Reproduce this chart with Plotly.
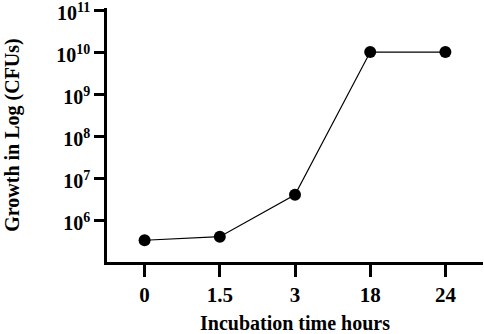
import plotly.graph_objects as go

time_labels = ["0", "1.5", "3", "18", "24"]
cfu_values = [3.3e5, 4.0e5, 4.0e6, 1.0e10, 1.0e10]
y_tick_vals = [1e6, 1e7, 1e8, 1e9, 1e10, 1e11]
y_tick_text = ["10<sup>6</sup>", "10<sup>7</sup>", "10<sup>8</sup>", "10<sup>9</sup>", "10<sup>10</sup>", "10<sup>11</sup>"]

fig = go.Figure(go.Scatter(
    x=time_labels, y=cfu_values, mode="lines+markers",
    line=dict(color="black", width=1.2),
    marker=dict(color="black", size=12),
    cliponaxis=False,
))

font_family = "Liberation Serif"
fig.update_layout(
    width=484, height=334,
    margin=dict(l=107, r=1, t=8, b=72, autoexpand=False),
    paper_bgcolor="white", plot_bgcolor="white",
    showlegend=False,
    font=dict(family=font_family, color="black", size=16, weight="bold"),
)
fig.update_xaxes(
    type="category", range=[-0.5, 4.5], automargin=False,
    showline=True, linecolor="black", linewidth=2.5,
    ticks="outside", ticklen=12, tickwidth=2.5, tickcolor="black",
    showgrid=False, zeroline=False,
    tickfont=dict(family=font_family, size=21, weight="bold"),
    title=dict(text="Incubation time hours", font=dict(family=font_family, size=20, weight="bold"), standoff=13),
)
fig.update_yaxes(
    type="log", range=[5, 11.05], automargin=False,
    tickvals=y_tick_vals, ticktext=y_tick_text, ticklabeloverflow="allow",
    ticklabelshift=3,
    showline=True, linecolor="black", linewidth=2.5,
    ticks="outside", ticklen=10, tickwidth=2.5, tickcolor="black",
    showgrid=False, zeroline=False,
    tickfont=dict(family=font_family, size=20, weight="bold"),
    title=dict(text="Growth in Log (CFUs)", font=dict(family=font_family, size=20, weight="bold"), standoff=32),
)
fig.write_html("out.html", config={"displayModeBar": False},
               post_script="document.body.style.margin='0';document.body.style.overflow='hidden';")
